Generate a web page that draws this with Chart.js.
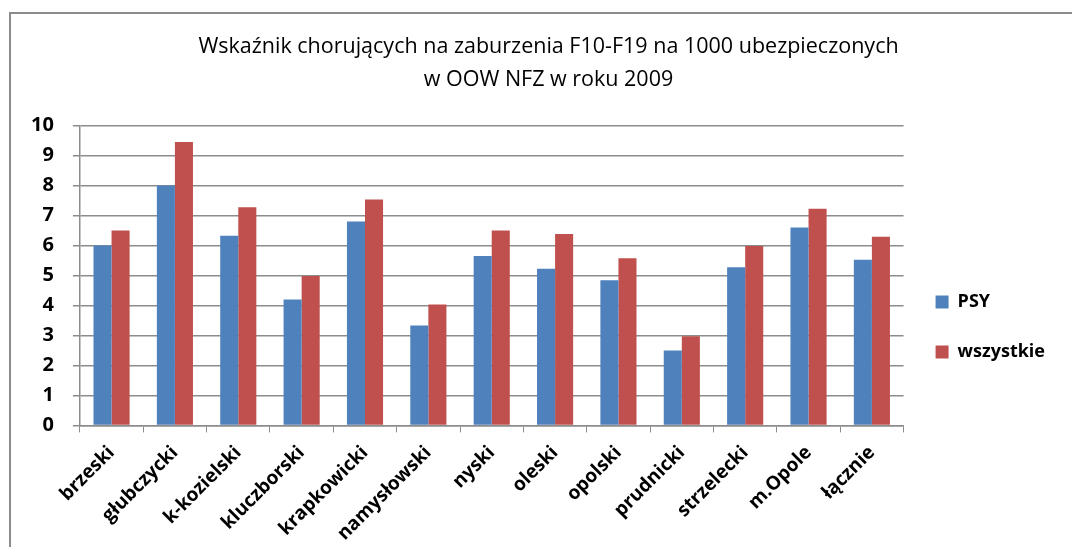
<!DOCTYPE html>
<html>
<head>
<meta charset="utf-8">
<script src="https://cdn.jsdelivr.net/npm/chart.js@4/dist/chart.umd.min.js"></script>
<style>
  html, body { margin: 0; padding: 0; background: #fff; overflow: hidden; }
  #ramka {
    position: absolute; left: 9px; top: 12px;
    width: 1080px; height: 545px;
    border-left: 2px solid #8c8c8c; border-top: 2px solid #8c8c8c;
  }
  #wykres { display: block; }
</style>
</head>
<body>
<div id="ramka"><canvas id="wykres" width="1044" height="540"></canvas></div>
<script>
// Powiaty (kategorie osi X)
const powiaty = ['brzeski', 'głubczycki', 'k-kozielski', 'kluczborski', 'krapkowicki',
  'namysłowski', 'nyski', 'oleski', 'opolski', 'prudnicki', 'strzelecki', 'm.Opole', 'łącznie'];

// Wskaźnik na 1000 ubezpieczonych
const psy = [6.0, 8.0, 6.32, 4.2, 6.8, 3.33, 5.65, 5.22, 4.84, 2.5, 5.27, 6.6, 5.52];
const wszystkie = [6.5, 9.45, 7.27, 4.98, 7.53, 4.03, 6.5, 6.38, 5.57, 2.97, 5.98, 7.22, 6.29];

// Etykiety osi Y
const osY = { min: 0, max: 10, krok: 1 };

const tytul = ['Wskaźnik chorujących na zaburzenia F10-F19 na 1000 ubezpieczonych',
  'w OOW NFZ w roku 2009'];

const szary = '#8c8c8c';
const czcionka = '"Open Sans", "DejaVu Sans", sans-serif';

// Przesuwa tytuł w prawo (w oryginale jest wyśrodkowany nad całym obszarem z legendą)
const przesunTytul = {
  id: 'przesunTytul',
  afterLayout(chart) {
    if (chart.titleBlock) {
      chart.titleBlock.left += 15;
      chart.titleBlock.right += 15;
    }
  }
};

new Chart(document.getElementById('wykres'), {
  type: 'bar',
  data: {
    labels: powiaty,
    datasets: [
      { label: 'PSY', data: psy, backgroundColor: '#4f81bd' },
      { label: 'wszystkie', data: wszystkie, backgroundColor: '#c0504d' }
    ]
  },
  options: {
    responsive: false,
    animation: false,
    layout: { padding: { left: 1, right: 0, top: 0, bottom: 0 } },
    datasets: { bar: { categoryPercentage: 0.57, barPercentage: 1 } },
    scales: {
      x: {
        grid: { drawOnChartArea: false, drawTicks: true, tickLength: 7, color: szary, offset: true },
        border: { color: szary, width: 1.5 },
        ticks: {
          color: '#000', minRotation: 45, maxRotation: 45, autoSkip: false, padding: 9,
          font: { family: czcionka, size: 19, weight: 'bold' }
        }
      },
      y: {
        min: osY.min, max: osY.max,
        grid: { color: szary, lineWidth: 1.5, tickLength: 7 },
        border: { color: szary, width: 1.5 },
        ticks: {
          stepSize: osY.krok, color: '#000', padding: 19,
          font: { family: czcionka, size: 20, weight: 'bold' }
        }
      }
    },
    plugins: {
      title: {
        display: true,
        text: tytul,
        color: '#000',
        font: { family: czcionka, size: 21.5, weight: 'normal', lineHeight: 1.5 },
        padding: { top: 17, bottom: 30 }
      },
      legend: {
        position: 'right',
        align: 'start',
        fullSize: false,
        title: { display: true, text: '', font: { size: 12, lineHeight: 1.2 }, padding: { top: 0, bottom: 121 } },
        labels: {
          color: '#000', boxWidth: 13, boxHeight: 13, padding: 32,
          font: { family: czcionka, size: 18, weight: 'bold' }
        }
      },
      tooltip: { enabled: false }
    }
  },
  plugins: [przesunTytul]
});
</script>
</body>
</html>
